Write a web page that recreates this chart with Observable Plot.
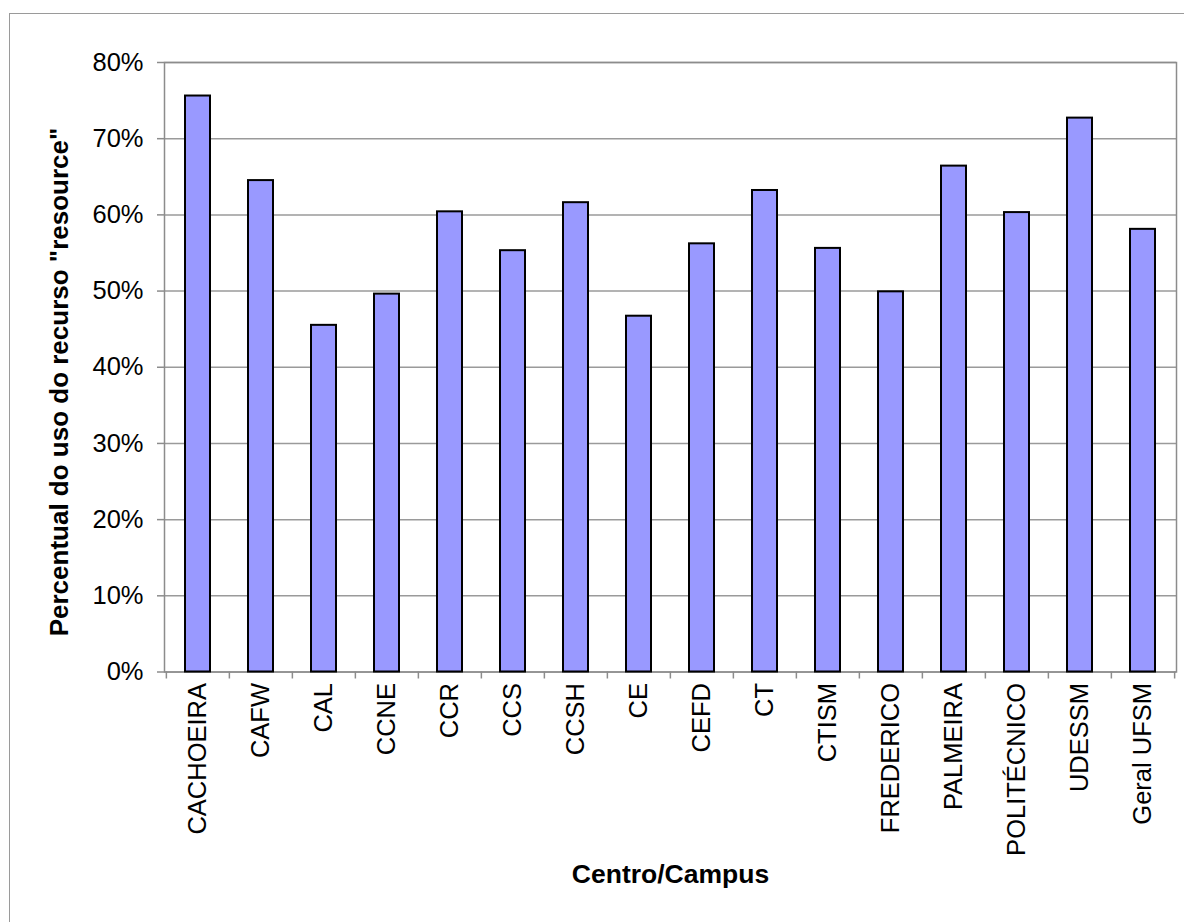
<!DOCTYPE html>
<html>
<head>
<meta charset="utf-8">
<script src="https://cdn.jsdelivr.net/npm/d3@7"></script>
<script src="https://cdn.jsdelivr.net/npm/@observablehq/plot@0.6"></script>
<style>
  html, body { margin: 0; padding: 0; background: #fff; overflow: hidden; }
  #wrap { position: relative; width: 1184px; height: 922px; }
  #border { position: absolute; left: 9px; top: 13px; width: 1200px; height: 940px;
            border-left: 1px solid #9a9a9a; border-top: 1px solid #9a9a9a; }
  #chart { position: absolute; left: 0; top: 0; }
</style>
</head>
<body>
<div id="wrap"><div id="border"></div><div id="chart"></div></div>
<script>
// Percentual do uso do recurso "resource" por centro/campus
const categories = ["CACHOEIRA", "CAFW", "CAL", "CCNE", "CCR", "CCS", "CCSH", "CE",
  "CEFD", "CT", "CTISM", "FREDERICO", "PALMEIRA", "POLITÉCNICO", "UDESSM", "Geral UFSM"];
const values = [75.6, 64.5, 45.5, 49.6, 60.4, 55.3, 61.6, 46.7,
  56.2, 63.2, 55.6, 49.9, 66.4, 60.3, 72.7, 58.1];
const yTicks = [0, 10, 20, 30, 40, 50, 60, 70, 80];
const xTitle = "Centro/Campus";
const yTitle = "Percentual do uso do recurso \"resource\"";

const data = categories.map((c, i) => ({centro: c, pct: values[i]}));

const W = 1184, H = 922;
const ml = 164, mr = 8, mt = 62, mb = 250.5;
const step = (W - ml - mr) / categories.length;
const font = "'Liberation Sans', Arial, Helvetica, sans-serif";
const noText = () => "";

const chart = Plot.plot({
  width: W,
  height: H,
  marginLeft: ml,
  marginRight: mr,
  marginTop: mt,
  marginBottom: mb,
  style: {fontFamily: font, background: "transparent", overflow: "visible"},
  x: {domain: categories, paddingInner: 0.6, paddingOuter: 0.3, axis: null},
  y: {domain: [0, 80], axis: null},
  marks: [
    Plot.ruleY(yTicks, {stroke: "#9a9a9a", strokeWidth: 1.5}),
    Plot.frame({stroke: "#8c8c8c", strokeWidth: 1.5}),
    Plot.barY(data, {x: "centro", y: "pct", fill: "#9999ff", stroke: "#000", strokeWidth: 2}),
    // tick marks sit between categories
    Plot.axisX({ticks: categories, tickSize: 7, tickFormat: noText, dx: -step / 2,
      stroke: "#8c8c8c", strokeWidth: 1.5, label: null}),
    Plot.axisX({ticks: categories.slice(-1), tickSize: 7, tickFormat: noText, dx: step / 2,
      stroke: "#8c8c8c", strokeWidth: 1.5, label: null}),
    Plot.axisX({tickRotate: -90, tickSize: 0, tickPadding: 11, fontSize: 25.5, fill: "#000", label: null}),
    Plot.axisY({ticks: yTicks, tickSize: 7, tickPadding: 14, tickFormat: d => d + "%",
      fontSize: 25.5, fill: "#000", stroke: "#8c8c8c", strokeWidth: 1.5, label: null}),
    Plot.text([xTitle], {text: d => d, frameAnchor: "bottom", dy: 203, lineAnchor: "middle",
      textAnchor: "middle", fontSize: 26.5, fontWeight: "bold", fill: "#000"}),
    Plot.text([yTitle], {text: d => d, frameAnchor: "left", dx: -105, dy: 14.75, rotate: -90,
      lineAnchor: "middle", textAnchor: "middle", fontSize: 26, fontWeight: "bold", fill: "#000"})
  ]
});

document.getElementById("chart").appendChild(chart);
</script>
</body>
</html>
